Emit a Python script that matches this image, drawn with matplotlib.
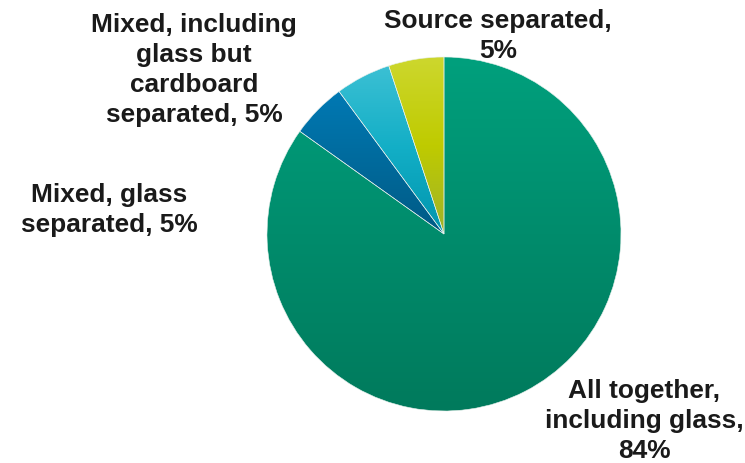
import numpy as np
import matplotlib.pyplot as plt
from matplotlib.colors import LinearSegmentedColormap

labels = ['All together,\nincluding glass,\n84%',
          'Mixed, glass\nseparated, 5%',
          'Mixed, including\nglass but\ncardboard\nseparated, 5%',
          'Source separated,\n5%']
shares = [84, 5, 5, 5]

# gradient stops for each slice, top -> bottom
shades = [['#00a07d', '#008c6c', '#007a5c'],
          ['#0079b4', '#006a9c', '#005a85'],
          ['#3cc0d4', '#12aec6', '#0095ad'],
          ['#cdd72e', '#bfcb00', '#9fb22a']]

# label anchors (x, y) in pixels from top-left
label_pos = [(644, 421), (109, 210), (194, 70), (498, 36)]

plt.rcParams['font.family'] = ['Liberation Sans', 'DejaVu Sans']

fig = plt.figure(figsize=(7.45, 4.63), dpi=100)
ax = fig.add_axes([0, 0, 1, 1])

wedges, _ = ax.pie(shares, startangle=90, counterclock=False,
                   center=(444, 463 - 234), radius=177,
                   wedgeprops=dict(edgecolor='#e6f0ec', linewidth=0.4))

grad = np.linspace(0, 1, 256).reshape(-1, 1)
for w, cols in zip(wedges, shades):
    verts = w.get_path().vertices
    x0, y0 = verts.min(axis=0)
    x1, y1 = verts.max(axis=0)
    cmap = LinearSegmentedColormap.from_list('g', cols)
    im = ax.imshow(grad, cmap=cmap, extent=(x0, x1, y0, y1),
                   origin='upper', aspect='auto', zorder=0.5)
    im.set_clip_path(w)
    w.set_facecolor('none')
    w.set_zorder(1)

for txt, (x, y) in zip(labels, label_pos):
    ax.text(x, 463 - y, txt, ha='center', va='center', fontsize=18.9,
            fontweight='bold', color='#1a1a1a', linespacing=1.32)

ax.set_xlim(0, 745)
ax.set_ylim(0, 463)
ax.set_aspect('equal')
ax.axis('off')

fig.savefig('out.png', dpi=100)
